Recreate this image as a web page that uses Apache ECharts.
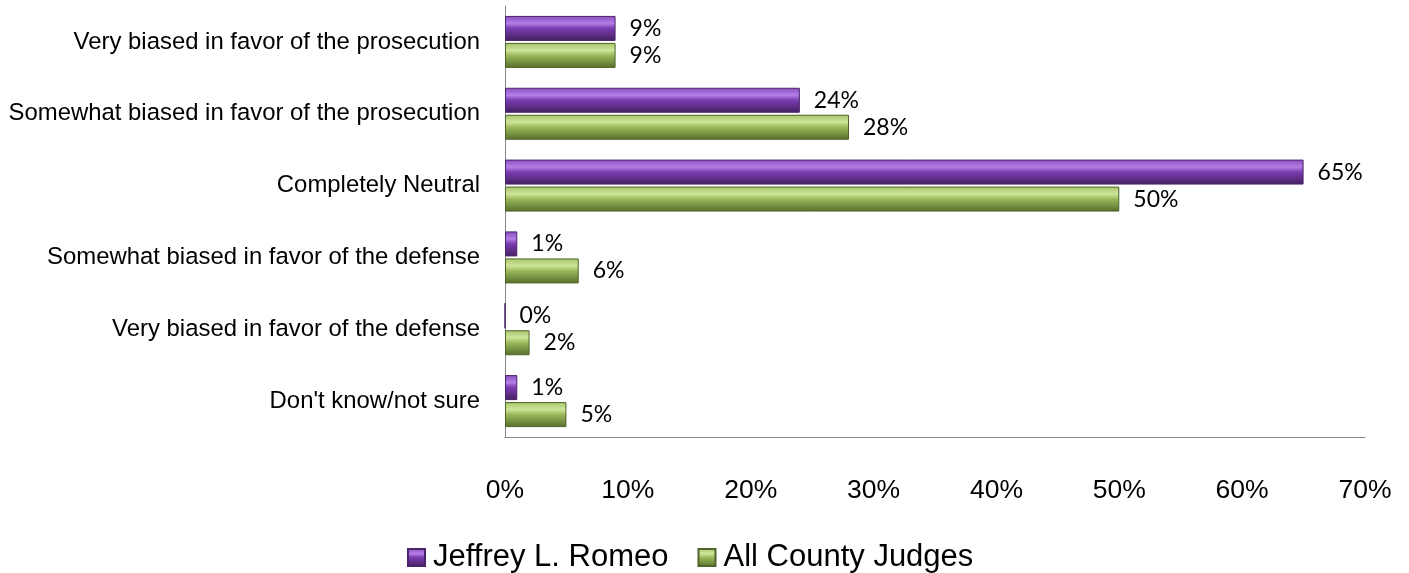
<!DOCTYPE html>
<html><head><meta charset="utf-8">
<script src="https://cdn.jsdelivr.net/npm/echarts@6/dist/echarts.min.js"></script>
<style>html,body{margin:0;padding:0;background:#fff}#c{width:1409px;height:573px}</style>
</head><body><div id="c"></div>
<script>
const categories = ["Very biased in favor of the prosecution","Somewhat biased in favor of the prosecution","Completely Neutral","Somewhat biased in favor of the defense","Very biased in favor of the defense","Don't know/not sure"];
const seriesNames = ["Jeffrey L. Romeo","All County Judges"];
const romeo = [9,24,65,1,0,1];
const allJudges = [9,28,50,6,2,5];

function grad(top, hi, mid, bottom){
  return new echarts.graphic.LinearGradient(0,0,0,1,[
    {offset:0,color:top},{offset:0.3,color:hi},{offset:0.5,color:mid},{offset:1,color:bottom}]);
}
const purple = grad('#8a4cc0','#b47ee6','#7a3cb0','#45205f');
const green = grad('#a8c46a','#cde59a','#9bb85a','#566e2c');

const labelStyle = {show:true, position:'right', distance:14, formatter:'{c}%', fontFamily:'Lato, "Open Sans", sans-serif', fontSize:23, color:'#000'};
const arial = '"Liberation Sans", Arial, sans-serif';

const chart = echarts.init(document.getElementById('c'));
chart.setOption({
  animation:false,
  grid:{left:505, right:44, top:6, bottom:136, containLabel:false},
  legend:{top:537, left:402, icon:'rect', itemWidth:17, itemHeight:17, itemGap:29,
    textStyle:{fontFamily:arial, fontSize:31, color:'#000', padding:[0,0,0,3]},
    data:seriesNames},
  xAxis:{type:'value', min:0, max:70, interval:10,
    axisLine:{show:true, lineStyle:{color:'#868686', width:1}},
    axisTick:{show:false}, splitLine:{show:false},
    axisLabel:{formatter:'{value}%', margin:40, fontFamily:arial, fontSize:26.5, color:'#000'}},
  yAxis:{type:'category', inverse:true, data:categories,
    axisLine:{show:true, lineStyle:{color:'#868686', width:1}},
    axisTick:{show:false},
    axisLabel:{margin:25, fontFamily:arial, fontSize:23.9, color:'#000'}},
  series:[
    {name:seriesNames[0], type:'bar', data:romeo, barWidth:25, barGap:'8%',
      itemStyle:{color:purple, borderColor:'#4a2468', borderWidth:1}, label:labelStyle},
    {name:seriesNames[1], type:'bar', data:allJudges, barWidth:25, barGap:'8%',
      itemStyle:{color:green, borderColor:'#4e6428', borderWidth:1}, label:labelStyle}
  ]
});
</script></body></html>
